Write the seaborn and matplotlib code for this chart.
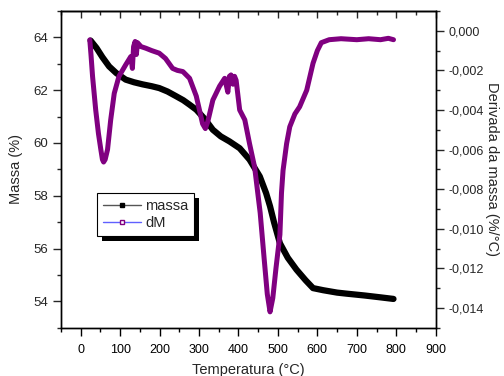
import matplotlib
matplotlib.use("Agg")
import matplotlib.pyplot as plt
from matplotlib.ticker import MultipleLocator, FuncFormatter
from matplotlib.lines import Line2D
from matplotlib.patches import Rectangle
from matplotlib.transforms import IdentityTransform
import seaborn as sns
import pandas as pd

# Mass loss curve (TG)
temp_mass = [25, 40, 55, 72, 90, 114, 135, 157, 180, 199, 220, 242, 260, 276,
             293, 315, 335, 355, 377, 403, 428, 454, 470, 480, 490, 505, 525,
             547, 570, 589, 615, 650, 674, 720, 760, 793]
mass = [63.88, 63.6, 63.25, 62.9, 62.65, 62.4, 62.3, 62.22, 62.15, 62.08,
        61.95, 61.77, 61.62, 61.45, 61.26, 60.9, 60.5, 60.25, 60.06, 59.8,
        59.37, 58.73, 58.1, 57.6, 57.0, 56.2, 55.65, 55.2, 54.8, 54.5, 54.42,
        54.33, 54.29, 54.22, 54.15, 54.09]

# Derivative of mass (DTG)
temp_dm = [23, 26, 30, 38, 45, 51, 55, 58, 62, 68, 76, 85, 97, 114, 127, 131,
           134, 138, 141, 144, 153, 165, 180, 199, 215, 233, 245, 259, 276,
           293, 309, 316, 322, 335, 352, 365, 373, 377, 381, 386, 390, 394,
           403, 416, 428, 441, 455, 465, 473, 480, 487, 495, 505, 509, 513,
           522, 530, 543, 555, 573, 589, 600, 610, 630, 660, 700, 730, 760,
           780, 793]
dm = [-0.00046, -0.0012, -0.0023, -0.0040, -0.0052, -0.0060, -0.0065,
      -0.00663, -0.0065, -0.0060, -0.0045, -0.00316, -0.0023, -0.00172,
      -0.0013, -0.0019, -0.0008, -0.00054, -0.0012, -0.0006, -0.0008,
      -0.00088, -0.0010, -0.00113, -0.0014, -0.0019, -0.0020, -0.00206,
      -0.0024, -0.0033, -0.0047, -0.00494, -0.0046, -0.0035, -0.0028,
      -0.0024, -0.0031, -0.0023, -0.00223, -0.0027, -0.0023, -0.0025,
      -0.0040, -0.0045, -0.0057, -0.0069, -0.0092, -0.0115, -0.0133,
      -0.0142, -0.0135, -0.0120, -0.0103, -0.0082, -0.00705, -0.0057,
      -0.00485, -0.0042, -0.00384, -0.0030, -0.00164, -0.0010, -0.0006,
      -0.00045, -0.0004, -0.00045, -0.0004, -0.00045, -0.00038, -0.00045]

df_mass = pd.DataFrame({"T": temp_mass, "massa": mass})
df_dm = pd.DataFrame({"T": temp_dm, "dM": dm})

sns.set_style("white")
plt.rcParams["font.family"] = ["Liberation Sans", "DejaVu Sans"]

fig = plt.figure(figsize=(5.04, 3.76), dpi=100)
ax = fig.add_axes([61 / 504, 1 - 327.7 / 376, (435.7 - 61) / 504, (327.7 - 11) / 376])
ax2 = ax.twinx()

purple = "#800080"
sns.lineplot(data=df_mass, x="T", y="massa", ax=ax, color="black",
             linewidth=4.5, solid_capstyle="round", sort=False, zorder=3)
sns.lineplot(data=df_dm, x="T", y="dM", ax=ax2, color=purple,
             linewidth=3.6, solid_capstyle="round", sort=False, zorder=3)

ax.set_xlim(-50, 900)
ax.set_ylim(53, 65)
ax2.set_ylim(-0.015, 0.001)

ax.xaxis.set_major_locator(MultipleLocator(100))
ax.xaxis.set_minor_locator(MultipleLocator(50))
ax.yaxis.set_major_locator(MultipleLocator(2))
ax.yaxis.set_minor_locator(MultipleLocator(1))
ax2.yaxis.set_major_locator(MultipleLocator(0.002))
ax2.yaxis.set_minor_locator(MultipleLocator(0.001))
ax2.yaxis.set_major_formatter(FuncFormatter(
    lambda v, p: f"{v:.3f}".replace(".", ",").replace("-0,000", "0,000")))

for a in (ax, ax2):
    for s in a.spines.values():
        s.set_color("black")
        s.set_linewidth(1.0)

ax.tick_params(axis="x", which="both", direction="out", bottom=True, top=False,
               labelsize=9, colors="black", pad=6)
ax.tick_params(axis="x", which="major", length=6, width=1)
ax.tick_params(axis="x", which="minor", length=3, width=1)
ax.tick_params(axis="y", which="both", direction="out", left=True, labelsize=9.5, pad=3)
ax.tick_params(axis="y", which="major", length=6, width=1)
ax.tick_params(axis="y", which="minor", length=3, width=1)
ax2.tick_params(axis="y", which="both", direction="out", right=True, labelsize=9, pad=3)
ax2.tick_params(axis="y", which="major", length=6, width=1)
ax2.tick_params(axis="y", which="minor", length=3, width=1)

# inward ticks along the top edge
top = ax.secondary_xaxis("top")
top.xaxis.set_major_locator(MultipleLocator(100))
top.xaxis.set_minor_locator(MultipleLocator(50))
top.tick_params(axis="x", which="both", direction="in", labeltop=False, width=1)
top.tick_params(axis="x", which="major", length=5)
top.tick_params(axis="x", which="minor", length=3)
top.spines["top"].set_linewidth(1.0)

ax.set_xlabel("Temperatura (°C)", fontsize=10.5, labelpad=5)
ax.set_ylabel("Massa (%)", fontsize=10.5, labelpad=8)
ax2.set_ylabel("Derivada da massa (%/°C)", fontsize=10.5, rotation=270, labelpad=11)

handles = [
    Line2D([0], [0], color="#555555", lw=1, marker="s", markersize=3,
           markerfacecolor="black", markeredgecolor="black"),
    Line2D([0], [0], color="#6060ff", lw=1, marker="s", markersize=3.5,
           markerfacecolor="white", markeredgecolor=purple, markeredgewidth=1),
]
leg = ax2.legend(handles, ["massa", "dM"], loc="upper left",
                 bbox_to_anchor=(97 / 504, 1 - 193 / 376), bbox_transform=fig.transFigure,
                 fontsize=10.5, frameon=True, fancybox=False, handlelength=2.6,
                 handletextpad=0.3, borderpad=0.4, labelspacing=0.2,
                 borderaxespad=0, framealpha=1)
leg.get_frame().set_edgecolor("black")
leg.get_frame().set_linewidth(0.8)
leg.set_zorder(10)

# solid drop shadow behind the legend box
fig.canvas.draw()
bb = leg.get_window_extent()
shadow = Rectangle((bb.x0 + 5, bb.y0 - 5), bb.width, bb.height,
                   transform=IdentityTransform(), facecolor="black",
                   edgecolor="none", zorder=9, clip_on=False)
ax2.add_artist(shadow)

fig.savefig("out.png", dpi=100)
